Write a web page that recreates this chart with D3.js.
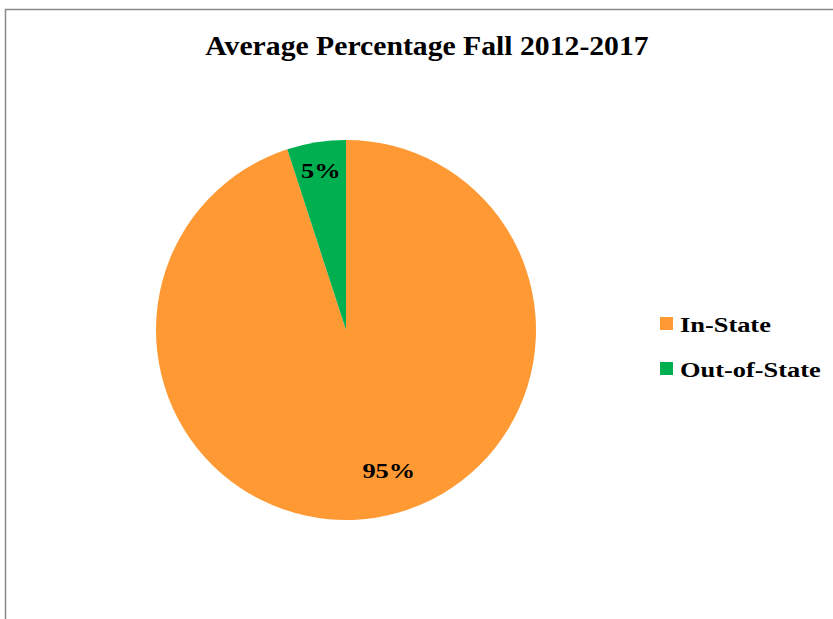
<!DOCTYPE html>
<html>
<head>
<meta charset="utf-8">
<script src="https://cdn.jsdelivr.net/npm/d3@7"></script>
<style>
  body { margin: 0; background: #fff; }
  text { font-family: "Liberation Serif", "Times New Roman", serif; font-weight: bold; }
</style>
</head>
<body>
<script>
'use strict';

// chart data
const categories = ["In-State", "Out-of-State"];
const values = [95, 5];
const labels = ["95%", "5%"];
const colors = ["#ff9933", "#00b050"];

(function() {
  let svg = d3.select('body')
    .append('svg')
    .attr('width', 833)
    .attr('height', 619);

  // reference glyphs are wider than Liberation Serif, so text is scaled in x
  function place(x, y, sx) {
    return 'translate(' + x + ',' + y + ') scale(' + sx + ',1)';
  }

  // chart frame (only left and top edges visible)
  svg.append('path')
    .attr('d', 'M5.5,619 L5.5,9.5 L833,9.5')
    .attr('fill', 'none')
    .attr('stroke', '#8a8a8a')
    .attr('stroke-width', 1.5);

  // title
  svg.append('text')
    .attr('transform', place(427, 55, 1.1))
    .attr('text-anchor', 'middle')
    .style('font-size', '27px')
    .text("Average Percentage Fall 2012-2017");

  let data = categories.map((c, i) => ({ name: c, value: values[i], label: labels[i], color: colors[i] }));

  let pie = d3.pie()
    .sort(null)
    .value(d => d.value);

  let radius = 190;
  let arc = d3.arc().innerRadius(0).outerRadius(radius);

  let g = svg.append('g')
    .attr('transform', 'translate(346, 330)');

  let arcs = pie(data);

  g.selectAll('.slice')
    .data(arcs)
    .enter()
    .append('path')
      .attr('class', 'slice')
      .attr('d', arc)
      .attr('fill', d => d.data.color);

  // percentage labels, excel "best fit" style placement
  function labelPos(d) {
    let mid = (d.startAngle + d.endAngle) / 2;
    let r = radius * 0.85;
    if (d.endAngle - d.startAngle > Math.PI) {
      // big slice: label sits a bit off the mid line
      mid -= 8 * Math.PI / 180;
      r = radius * 0.77;
    }
    return d3.pointRadial(mid, r);
  }

  g.selectAll('.lbl')
    .data(arcs)
    .enter()
    .append('text')
      .attr('class', 'lbl')
      .attr('transform', d => {
        let p = labelPos(d);
        return place(p[0], p[1], 1.2);
      })
      .attr('text-anchor', 'middle')
      .attr('dy', '0.35em')
      .style('font-size', '22px')
      .text(d => d.data.label);

  // legend
  let legend = svg.append('g')
    .attr('transform', 'translate(660, 317)');

  let items = legend.selectAll('.item')
    .data(data)
    .enter()
    .append('g')
      .attr('class', 'item')
      .attr('transform', (d, i) => 'translate(0,' + (i * 45) + ')');

  items.append('rect')
    .attr('width', 13)
    .attr('height', 13)
    .attr('fill', d => d.color);

  items.append('text')
    .attr('transform', place(20, 15, 1.2))
    .style('font-size', '22px')
    .text(d => d.name);
})();
</script>
</body>
</html>
